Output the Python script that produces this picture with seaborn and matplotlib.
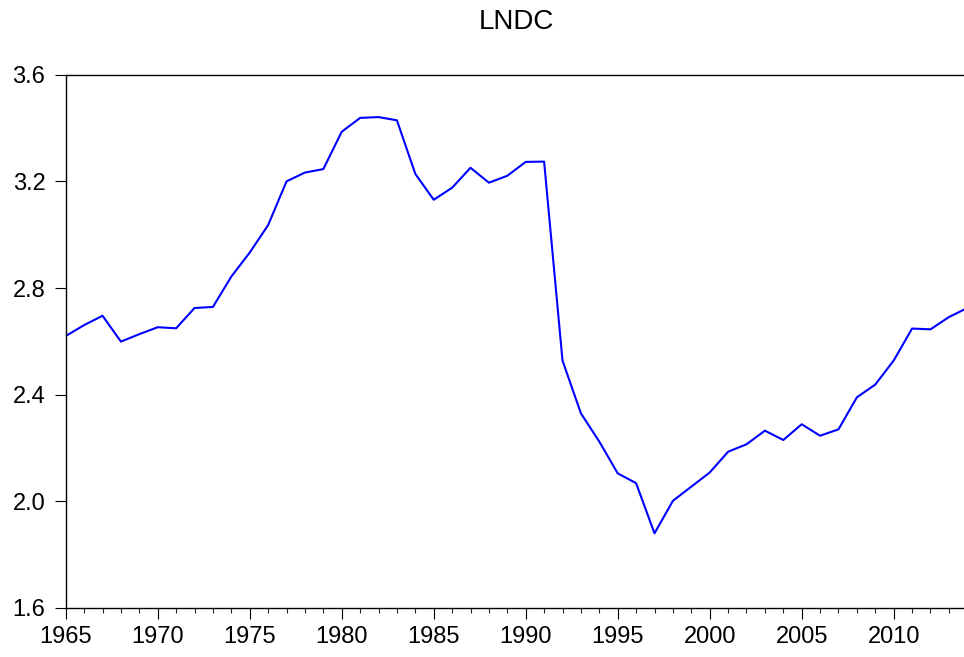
import numpy as np
import pandas as pd
import seaborn as sns
from matplotlib import pyplot as plt
from matplotlib.ticker import MultipleLocator, FormatStrFormatter

# values, one per year
years = list(range(1965, 2015))
lndc = [
    2.620, 2.661, 2.696, 2.599, 2.627, 2.653, 2.649, 2.725, 2.729, 2.843,  # 1965-74
    2.933, 3.036, 3.200, 3.233, 3.246, 3.386, 3.438, 3.441, 3.429, 3.228,  # 1975-84
    3.131, 3.176, 3.251, 3.195, 3.221, 3.273, 3.274, 2.528, 2.330, 2.224,  # 1985-94
    2.105, 2.068, 1.880, 2.002, 2.055, 2.108, 2.186, 2.214, 2.265, 2.230,  # 1995-04
    2.289, 2.246, 2.270, 2.390, 2.438, 2.528, 2.648, 2.645, 2.691, 2.725,  # 2005-14
]
y_ticks = [1.6, 2.0, 2.4, 2.8, 3.2, 3.6]

df = pd.DataFrame({"year": years, "LNDC": lndc})

sns.set_style("ticks")
plt.rcParams["font.family"] = ["Liberation Sans", "DejaVu Sans"]

fig = plt.figure(figsize=(9.64, 6.57), dpi=100)
# axes run a touch past the right edge, like the original screenshot
ax = fig.add_axes([0.0682, 0.0746, 0.9352, 0.8117])

sns.lineplot(data=df, x="year", y="LNDC", ax=ax, color="#0000ff", linewidth=1.5)

ax.set_xlim(1965, 2014)
ax.set_ylim(1.6, 3.6)
ax.set_yticks(y_ticks)
ax.yaxis.set_major_formatter(FormatStrFormatter("%.1f"))
ax.xaxis.set_major_locator(MultipleLocator(5))
ax.xaxis.set_minor_locator(MultipleLocator(1))

ax.tick_params(axis="y", direction="out", length=7.7, width=0.8, pad=7,
               labelsize=17, colors="black")
ax.tick_params(axis="x", which="major", direction="out", length=8, width=0.8,
               pad=5, labelsize=17, colors="black")
ax.tick_params(axis="x", which="minor", direction="out", length=3.6, width=0.8)

for side in ["left", "top", "bottom"]:
    ax.spines[side].set_visible(True)
    ax.spines[side].set_color("black")
    ax.spines[side].set_linewidth(1.0)
ax.spines["right"].set_visible(False)

ax.set_xlabel("")
ax.set_ylabel("")
ax.set_title("LNDC", fontsize=20, pad=33, color="black")

fig.savefig("out.png", dpi=100)
